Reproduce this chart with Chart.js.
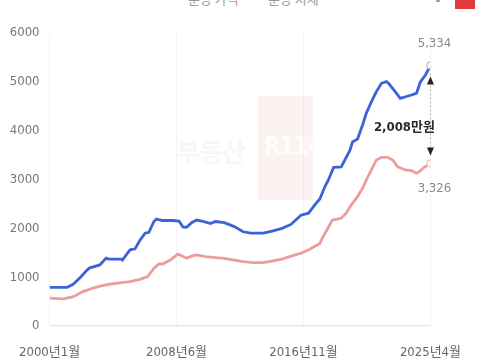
<!DOCTYPE html>
<html>
<head>
<meta charset="utf-8">
<script src="https://cdn.jsdelivr.net/npm/chart.js@4"></script>
<style>
  html, body { margin:0; padding:0; background:#fff; }
  #wrap { position:relative; width:480px; height:360px; overflow:hidden; }
  #c { position:absolute; left:0; top:0; }
  .leg { position:absolute; top:-11px; font:13px 'Noto Sans CJK KR', sans-serif; color:#9a9a9a; white-space:nowrap; }
  .wm1 { position:absolute; left:176px; top:132px; font:bold 26px 'Noto Sans CJK KR', sans-serif; color:rgba(0,0,0,0.05); letter-spacing:-1px; }
  .wm2 { position:absolute; left:258px; top:96px; width:55px; height:104px; background:rgba(230,70,70,0.07); overflow:hidden; }
  .wm3 { position:absolute; left:6px; top:36px; font:bold 24px 'DejaVu Sans Condensed',sans-serif; color:rgba(255,255,255,0.9); letter-spacing:-1px; }
</style>
</head>
<body>
<div id="wrap">
  <div class="wm2"><div class="wm3">R114</div></div>
  <div class="wm1">부동산</div>
  <div class="leg" style="left:188px">분양 가격</div>
  <div class="leg" style="left:268px">분양 시세</div>
  <div style="position:absolute;left:455px;top:0;width:20px;height:9px;background:#e03a3a"></div>
  <div style="position:absolute;left:436px;top:0;width:4px;height:2px;background:#999;border-radius:2px"></div>
  <canvas id="c" width="480" height="360"></canvas>
</div>
<script>
const seriesNames = ['분양 가격', '분양 시세'];
const tickMonths = ['2000-01', '2008-06', '2016-11', '2025-04'];
const tickLabels = ['2000년1월', '2008년6월', '2016년11월', '2025년4월'];
const yTicks = [0, 1000, 2000, 3000, 4000, 5000, 6000];

const blueMonths = ['2000-01','2001-03','2001-08','2002-02','2002-07','2002-09','2003-05','2003-10','2003-12','2004-10','2004-11','2005-05','2005-09','2006-01','2006-05','2006-08','2006-12','2007-02','2007-07','2008-03','2008-08','2008-11','2009-02','2009-06','2009-10','2010-02','2010-09','2011-01','2011-08','2012-04','2012-11','2013-05','2014-03','2014-10','2015-06','2016-01','2016-09','2017-03','2017-08','2017-12','2018-04','2018-07','2018-11','2019-05','2019-12','2020-02','2020-06','2020-10','2021-01','2021-05','2021-09','2022-01','2022-05','2022-07','2022-11','2023-04','2023-09','2024-01','2024-05','2024-08','2024-12','2025-04'];
const blueValues = [790,790,860,1010,1150,1190,1250,1390,1370,1370,1350,1560,1580,1760,1900,1920,2140,2190,2160,2160,2150,2030,2020,2115,2170,2150,2100,2140,2115,2035,1930,1900,1900,1945,2000,2080,2270,2310,2480,2600,2850,3000,3250,3260,3600,3770,3830,4115,4360,4590,4800,4970,5005,4960,4830,4660,4700,4730,4770,5000,5140,5334];

const redMonths = ['2000-01','2000-12','2001-08','2002-03','2002-11','2003-06','2004-02','2004-10','2005-05','2006-01','2006-07','2006-12','2007-04','2007-07','2008-01','2008-07','2008-11','2009-02','2009-06','2009-10','2010-05','2011-01','2011-08','2012-04','2012-11','2013-07','2014-03','2014-10','2015-06','2016-01','2016-09','2017-04','2017-12','2018-02','2018-10','2019-05','2019-09','2020-01','2020-06','2020-10','2021-01','2021-05','2021-09','2022-01','2022-06','2022-10','2023-02','2023-08','2024-01','2024-05','2024-07','2024-11','2025-04'];
const redValues = [570,555,600,700,770,820,860,890,910,955,1010,1180,1270,1270,1350,1470,1430,1390,1430,1455,1420,1400,1385,1350,1317,1297,1297,1330,1370,1430,1490,1570,1690,1800,2170,2205,2310,2480,2650,2820,2990,3195,3400,3455,3455,3400,3260,3195,3180,3130,3160,3250,3326];

function monthIndex(s){ const p = s.split('-').map(Number); return (p[0]-2000)*12 + (p[1]-1); }
const tickIdx = tickMonths.map(monthIndex);
const NUM_FONT = "'Liberation Sans Narrow','DejaVu Sans Condensed','Noto Sans CJK KR',sans-serif";

function toPts(months, values){ return months.map((m,i)=>({x:monthIndex(m), y:values[i]})); }
function lastOnly(n, r){ return Array.from({length:n}, (_,i)=> i===n-1 ? r : 0); }

const annot = {
  id:'annot',
  afterDatasetsDraw(chart){
    const ctx = chart.ctx;
    const b = chart.getDatasetMeta(0).data; const r = chart.getDatasetMeta(1).data;
    const pb = b[b.length-1], pr = r[r.length-1];
    const vb = blueValues[blueValues.length-1], vr = redValues[redValues.length-1];
    ctx.save();
    ctx.strokeStyle = '#bdbdbd'; ctx.lineWidth = 1.2; ctx.setLineDash([2,2]);
    ctx.beginPath(); ctx.moveTo(pb.x, pb.y+8); ctx.lineTo(pr.x, pr.y-8); ctx.stroke();
    ctx.setLineDash([]);
    ctx.fillStyle = '#222';
    ctx.beginPath(); ctx.moveTo(pb.x, pb.y+11); ctx.lineTo(pb.x-3.5, pb.y+19); ctx.lineTo(pb.x+3.5, pb.y+19); ctx.closePath(); ctx.fill();
    ctx.beginPath(); ctx.moveTo(pr.x, pr.y-8); ctx.lineTo(pr.x-3.5, pr.y-16); ctx.lineTo(pr.x+3.5, pr.y-16); ctx.closePath(); ctx.fill();
    ctx.textAlign = 'center'; ctx.textBaseline = 'middle';
    ctx.font = "13px " + NUM_FONT; ctx.fillStyle = '#8a8a8a';
    ctx.fillText(vb.toLocaleString('en-US'), pb.x+4, pb.y-22);
    ctx.fillText(vr.toLocaleString('en-US'), pr.x+4, pr.y+25);
    ctx.font = "bold 13px " + NUM_FONT; ctx.fillStyle = '#2a2a2a';
    ctx.fillText((vb-vr).toLocaleString('en-US') + '만원', pb.x-26, (pb.y+pr.y)/2 + 13);
    ctx.restore();
  }
};

new Chart(document.getElementById('c'), {
  type:'line',
  data:{
    datasets:[
      { label:seriesNames[0], data:toPts(blueMonths, blueValues), borderColor:'#3b62d8', borderWidth:2.8, tension:0,
        pointRadius:lastOnly(blueValues.length, 3.5), pointBackgroundColor:'#fff', pointBorderColor:'#b8b8b8', pointBorderWidth:1.2 },
      { label:seriesNames[1], data:toPts(redMonths, redValues), borderColor:'#eb9d9d', borderWidth:2.8, tension:0,
        pointRadius:lastOnly(redValues.length, 3.5), pointBackgroundColor:'#fff', pointBorderColor:'#e8c8a8', pointBorderWidth:1.2 }
    ]
  },
  options:{
    responsive:false, animation:false, devicePixelRatio:1,
    layout:{ padding:{ top:33, right:33, left:0, bottom:0 } },
    plugins:{ legend:{display:false}, tooltip:{enabled:false} },
    scales:{
      x:{ type:'linear', min:0, max:monthIndex(blueMonths[blueMonths.length-1]),
        afterBuildTicks(s){ s.ticks = tickIdx.map(v=>({value:v})); },
        afterFit(s){ s.height = 34; },
        grid:{ color:'rgba(0,0,0,0.045)', drawTicks:false }, border:{display:false},
        ticks:{ padding:19, maxRotation:0, autoSkip:false, color:'#666', font:{size:13, family:NUM_FONT},
          callback:(v)=>{ const k = tickIdx.indexOf(v); return k>=0 ? tickLabels[k] : ''; } }
      },
      y:{ min:0, max:6000,
        afterBuildTicks(s){ s.ticks = yTicks.map(v=>({value:v})); },
        afterFit(s){ s.width = 45; },
        grid:{ color:(c)=> c.tick && c.tick.value===0 ? '#e2e2e2' : 'rgba(0,0,0,0)', drawTicks:false, lineWidth:1.2 }, border:{display:false},
        ticks:{ padding:10, color:'#777', font:{size:13, family:NUM_FONT}, callback:(v)=>String(v) }
      }
    }
  },
  plugins:[annot]
});
</script>
</body>
</html>
